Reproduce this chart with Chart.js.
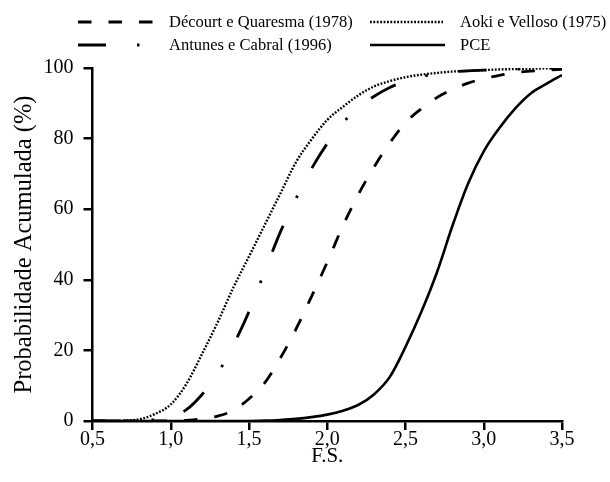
<!DOCTYPE html>
<html>
<head>
<meta charset="utf-8">
<script src="https://cdn.jsdelivr.net/npm/chart.js@4/dist/chart.umd.min.js"></script>
<style>
  body { margin: 0; background: #fff; }
  canvas { display: block; }
</style>
</head>
<body>
<canvas id="fsChart" width="610" height="482"></canvas>
<script>
// F.S. values (x axis) and cumulative probability (%) for each method
const fsValues = [0.5, 0.6, 0.7, 0.8, 0.9, 1.0, 1.1, 1.2, 1.3, 1.4, 1.5, 1.6, 1.7, 1.8, 1.9, 2.0,
                  2.1, 2.2, 2.3, 2.4, 2.5, 2.6, 2.7, 2.8, 2.9, 3.0, 3.1, 3.2, 3.3, 3.4, 3.5];

const decourt = [0, 0, 0, 0, 0, 0, 0.2, 0.6, 1.4, 3, 6.3, 10.8, 17.8, 26, 35.3, 45,
                 55.3, 64.3, 72, 78.8, 84.5, 88.4, 91.6, 93.9, 95.7, 97, 97.9, 98.7, 99.1, 99.4, 99.6];
const aoki = [0, 0, 0.1, 0.5, 2, 4.7, 10.5, 19, 28, 37.8, 46.6, 55.5, 64.4, 73.3, 79.8, 85.3,
              89, 92.3, 94.8, 96.3, 97.4, 98.1, 98.6, 99, 99.2, 99.4, 99.6, 99.7, 99.8, 99.9, 99.9];
const antunes = [0, 0, 0, 0.1, 0.4, 1.2, 3.2, 7.5, 13.5, 21.5, 31, 42.3, 53.5, 63, 71.5, 78.6,
                 84.5, 88.8, 92, 94.5, 96.2, 97.5, 98.4, 98.9, 99.2, 99.4, 99.6, 99.7, 99.8, 99.9, 99.9];
const pce = [0, 0, 0, 0, 0, 0, 0, 0, 0, 0, 0, 0.1, 0.3, 0.6, 1.1, 1.8,
             2.9, 4.6, 7.6, 12.5, 21, 30.8, 42, 55.3, 67.3, 76.4, 83, 88.5, 92.8, 95.5, 98];

const seriesNames = ['Décourt e Quaresma (1978)', 'Aoki e Velloso (1975)', 'Antunes e Cabral (1996)', 'PCE'];

const xTicks = [0.5, 1.0, 1.5, 2.0, 2.5, 3.0, 3.5];
const yTicks = [0, 20, 40, 60, 80, 100];

function toPoints(values) {
    return values.map((v, i) => ({ x: fsValues[i], y: v }));
}

const FONT = "'Liberation Serif', 'Times New Roman', serif";

// legend drawn by hand: two columns, two rows, like the original figure
const legendPlugin = {
    id: 'twoColumnLegend',
    afterDraw(chart) {
        const ctx = chart.ctx;
        const slots = [
            { x0: 78, x1: 153, tx: 169, y: 22 },
            { x0: 370, x1: 443, tx: 460, y: 22 },
            { x0: 78, x1: 153, tx: 169, y: 45 },
            { x0: 370, x1: 445, tx: 460, y: 45 }
        ];
        chart.data.datasets.forEach((ds, i) => {
            const s = slots[i];
            ctx.save();
            ctx.strokeStyle = '#000';
            ctx.lineWidth = ds.borderWidth;
            ctx.setLineDash(ds.borderDash || []);
            ctx.beginPath();
            ctx.moveTo(s.x0, s.y);
            ctx.lineTo(s.x1, s.y);
            ctx.stroke();
            ctx.setLineDash([]);
            ctx.fillStyle = '#000';
            ctx.font = "16.5px " + FONT;
            ctx.textBaseline = 'middle';
            ctx.textAlign = 'left';
            ctx.fillText(ds.label, s.tx, s.y + 1);
            ctx.restore();
        });
    }
};

const data = {
    datasets: [{
        label: seriesNames[0],
        data: toPoints(decourt),
        borderColor: '#000',
        borderWidth: 2.8,
        borderDash: [13.5, 17]
    }, {
        label: seriesNames[1],
        data: toPoints(aoki),
        borderColor: '#000',
        borderWidth: 2.4,
        borderDash: [1.8, 1.6]
    }, {
        label: seriesNames[2],
        data: toPoints(antunes),
        borderColor: '#000',
        borderWidth: 2.8,
        borderDash: [28, 31, 2.5, 31]
    }, {
        label: seriesNames[3],
        data: toPoints(pce),
        borderColor: '#000',
        borderWidth: 2.6
    }]
};

const config = {
    type: 'line',
    data: data,
    options: {
        responsive: false,
        animation: false,
        devicePixelRatio: 1,
        layout: {
            padding: { top: 68, right: 48, bottom: 15, left: 12 }
        },
        elements: {
            point: { radius: 0 },
            line: { cubicInterpolationMode: 'monotone', fill: false }
        },
        plugins: {
            legend: { display: false },
            tooltip: { enabled: false }
        },
        scales: {
            x: {
                type: 'linear',
                min: 0.5,
                max: 3.5,
                afterBuildTicks: (axis) => { axis.ticks = xTicks.map(v => ({ value: v })); },
                ticks: {
                    color: '#000',
                    font: { family: FONT, size: 20, lineHeight: 1 },
                    padding: 0,
                    callback: (v) => Number(v).toFixed(1).replace('.', ',')
                },
                grid: { drawOnChartArea: false, drawTicks: true, tickLength: 9, color: '#000', lineWidth: 2.5 },
                border: { color: '#000', width: 2.5 },
                title: {
                    display: true,
                    text: 'F.S.',
                    color: '#000',
                    font: { family: FONT, size: 21, lineHeight: 1 },
                    padding: { top: -4, bottom: 0 }
                }
            },
            y: {
                min: 0,
                max: 100,
                afterBuildTicks: (axis) => { axis.ticks = yTicks.map(v => ({ value: v })); },
                ticks: {
                    color: '#000',
                    font: { family: FONT, size: 20 },
                    padding: 10
                },
                grid: { drawOnChartArea: false, drawTicks: true, tickLength: 9, color: '#000', lineWidth: 2.5 },
                border: { color: '#000', width: 2.5 },
                title: {
                    display: true,
                    text: 'Probabilidade Acumulada (%)',
                    color: '#000',
                    font: { family: FONT, size: 24.5, lineHeight: 1 },
                    padding: { top: 0, bottom: -3 }
                }
            }
        }
    },
    plugins: [legendPlugin]
};

var fsChart = new Chart(document.getElementById('fsChart'), config);
</script>
</body>
</html>
